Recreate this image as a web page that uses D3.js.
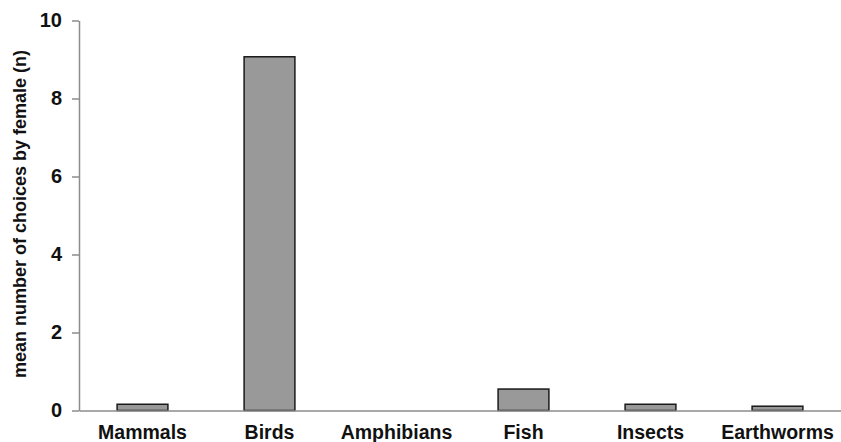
<!DOCTYPE html>
<html>
<script src="https://d3js.org/d3.v7.min.js"></script>

<head>
    <style>
        body {
            margin: 0;
            background-color: #ffffff;
            font-family: "Liberation Sans", Arial, Helvetica, sans-serif;
        }

        svg {
            display: block;
        }
    </style>
</head>

<body>
</body>
<script>
    const width = 841,
        height = 442;

    const categories = ["Mammals", "Birds", "Amphibians", "Fish", "Insects", "Earthworms"];
    const values = [0.16, 9.07, 0, 0.55, 0.16, 0.11];
    const yTicks = [0, 2, 4, 6, 8, 10];

    const margin = { top: 20.5, right: 0, bottom: 31.5, left: 79 };

    const svg = d3.select("body").append("svg").attr("width", width).attr("height", height);

    const x = d3.scaleBand()
        .domain(categories)
        .range([margin.left, width - margin.right])
        .paddingInner(0.6)
        .paddingOuter(0.3);

    const y = d3.scaleLinear()
        .domain([0, 10])
        .range([height - margin.bottom, margin.top]);

    // bars (zero-height amphibians bar is left out)
    svg.append("g")
        .selectAll("rect")
        .data(categories.map((c, i) => ({ c: c, v: values[i] })).filter(d => d.v > 0))
        .enter()
        .append("rect")
        .attr("x", d => x(d.c))
        .attr("y", d => y(d.v))
        .attr("width", x.bandwidth())
        .attr("height", d => y(0) - y(d.v))
        .attr("fill", "#999999")
        .attr("stroke", "#1a1a1a")
        .attr("stroke-width", 1.5);

    // y axis
    const yAxis = svg.append("g")
        .attr("transform", `translate(${margin.left},0)`)
        .call(d3.axisLeft(y).tickValues(yTicks).tickSize(7).tickSizeOuter(0).tickPadding(10));
    yAxis.select(".domain").attr("stroke", "#8c8c8c").attr("stroke-width", 1.5);
    yAxis.selectAll(".tick line").attr("stroke", "#8c8c8c").attr("stroke-width", 1.5);
    yAxis.selectAll(".tick text")
        .attr("font-family", "Liberation Sans, Arial, sans-serif")
        .attr("font-weight", "bold")
        .attr("font-size", 20)
        .attr("fill", "#111");

    // x axis
    const xAxis = svg.append("g")
        .attr("transform", `translate(0,${y(0)})`)
        .call(d3.axisBottom(x).tickSize(0).tickSizeOuter(0).tickPadding(15));
    xAxis.select(".domain").attr("stroke", "#8c8c8c").attr("stroke-width", 1.5);
    xAxis.selectAll(".tick text")
        .attr("font-family", "Liberation Sans, Arial, sans-serif")
        .attr("font-weight", "bold")
        .attr("font-size", 19.5)
        .attr("fill", "#111");

    // y title
    svg.append("text")
        .attr("transform", "translate(26,214) rotate(-90)")
        .attr("text-anchor", "middle")
        .attr("font-family", "Liberation Sans, Arial, sans-serif")
        .attr("font-weight", "bold")
        .attr("font-size", 18)
        .attr("fill", "#111")
        .text("mean number of choices by female (n)");
</script>

</html>
